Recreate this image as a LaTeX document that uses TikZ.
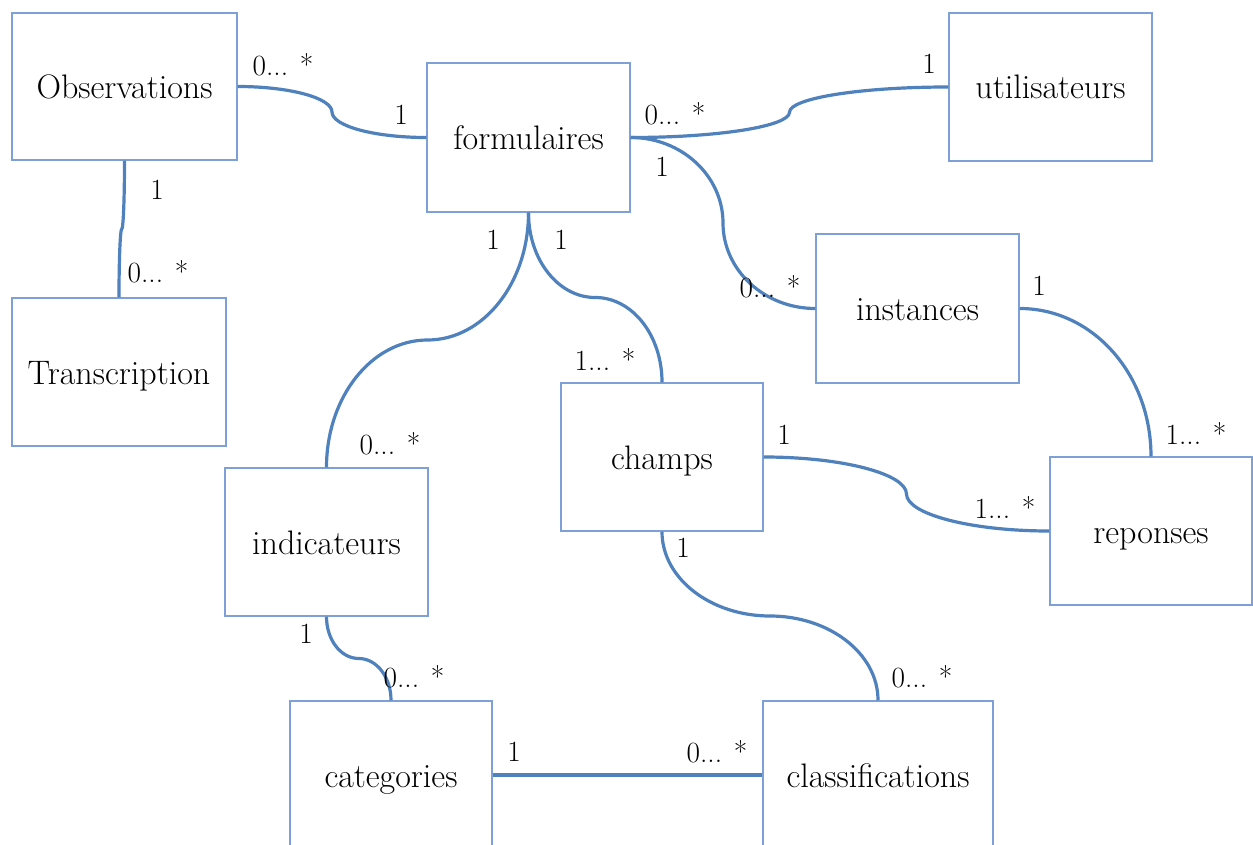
\documentclass[tikz,border=0pt]{standalone}
\usetikzlibrary{calc}
\definecolor{linkblue}{RGB}{79,129,189}
\definecolor{boxblue}{RGB}{125,160,215}
\begin{document}
\begin{tikzpicture}[x=0.75pt,y=-0.75pt,
  box/.style={draw=boxblue,line width=1.1pt,fill=white,minimum width=152.25pt,minimum height=111pt,
    inner sep=0pt,text height=22pt,text depth=4pt,font=\fontsize{25.5pt}{30pt}\selectfont},
  card/.style={inner sep=0pt,font=\fontsize{22pt}{26pt}\selectfont},
  link/.style={draw=linkblue,line width=2.4pt}]
\useasboundingbox[fill=white] (0,0) rectangle (1253,845);

% entities
\node[box,minimum width=168.75pt,minimum height=110.25pt] (obs) at (124.5,86.5) {Observations};
\node[box,minimum height=111.75pt] (form) at (528.5,137.5) {formulaires};
\node[box] (util) at (1050.5,87) {utilisateurs};
\node[box,minimum height=111.75pt] (inst) at (917.5,308.5) {instances};
\node[box,minimum width=160.5pt] (trans) at (119,372) {Transcription};
\node[box,minimum width=151.5pt] (champs) at (662,457) {champs};
\node[box] (indic) at (326.5,542) {indicateurs};
\node[box,minimum width=151.5pt] (rep) at (1151,531) {reponses};
\node[box,minimum width=151.5pt] (cat) at (391,775) {categories};
\node[box,minimum width=172.5pt] (class) at (878,775) {classifications};

% midpoints of the curved connectors
\coordinate (m1) at ($(obs.east)!0.5!(form.west)$);
\coordinate (m2) at ($(obs.south)!0.5!(trans.north)$);
\coordinate (m3) at ($(form.east)!0.5!(util.west)$);
\coordinate (m4) at ($(form.east)!0.5!(inst.west)$);
\coordinate (m5) at ($(form.south)!0.5!(indic.north)$);
\coordinate (m6) at ($(form.south)!0.5!(champs.north)$);
\coordinate (m8) at ($(champs.east)!0.5!(rep.west)$);
\coordinate (m9) at ($(champs.south)!0.5!(class.north)$);
\coordinate (m10) at ($(indic.south)!0.5!(cat.north)$);

% connectors
\draw[link] (obs.east) .. controls +(52,0) and +(0,-14) .. (m1) .. controls +(0,14) and +(-52,0) .. (form.west);
\draw[link] (obs.south) .. controls +(0,38) and +(1.5,0) .. (m2) .. controls +(-1.5,0) and +(0,-38) .. (trans.north);
\draw[link] (form.east) .. controls +(88,0) and +(0,14) .. (m3) .. controls +(0,-14) and +(-88,0) .. (util.west);
\draw[link] (form.east) .. controls +(51,0) and +(0,-47) .. (m4) .. controls +(0,47) and +(-51,0) .. (inst.west);
\draw[link] (form.south) .. controls +(0,70) and +(56,0) .. (m5) .. controls +(-56,0) and +(0,-70) .. (indic.north);
\draw[link] (form.south) .. controls +(0,47) and +(-37,0) .. (m6) .. controls +(37,0) and +(0,-47) .. (champs.north);
\draw[link] (inst.east) .. controls +(73,0) and +(0,-82) .. (rep.north);
\draw[link] (champs.east) .. controls +(79,0) and +(0,-20) .. (m8) .. controls +(0,20) and +(-79,0) .. (rep.west);
\draw[link] (champs.south) .. controls +(0,47) and +(-59,0) .. (m9) .. controls +(59,0) and +(0,-47) .. (class.north);
\draw[link] (indic.south) .. controls +(0,23) and +(-18,0) .. (m10) .. controls +(18,0) and +(0,-23) .. (cat.north);
\draw[link] (cat.east) -- (class.west);

% multiplicities
\node[card] (c1a) at (283,65) {0... *};
\node[card] (c1b) at (401,115) {1};
\node[card] (c2a) at (157,190) {1};
\node[card] (c2b) at (158,272) {0... *};
\node[card] (c3a) at (675,114) {0... *};
\node[card] (c3b) at (929,64) {1};
\node[card] (c4a) at (662,167) {1};
\node[card] (c4b) at (770,287) {0... *};
\node[card] (c5a) at (493,240) {1};
\node[card] (c5b) at (390,444) {0... *};
\node[card] (c6a) at (561,240) {1};
\node[card] (c6b) at (605,360) {1... *};
\node[card] (c7a) at (1039,286) {1};
\node[card] (c7b) at (1196,434) {1... *};
\node[card] (c8a) at (784,435) {1};
\node[card] (c8b) at (1005,508) {1... *};
\node[card] (c9a) at (683,548) {1};
\node[card] (c9b) at (922,677) {0... *};
\node[card] (c10a) at (306,634) {1};
\node[card] (c10b) at (414,677) {0... *};
\node[card] (c11a) at (514,752) {1};
\node[card] (c11b) at (717,752) {0... *};
\end{tikzpicture}
\end{document}
